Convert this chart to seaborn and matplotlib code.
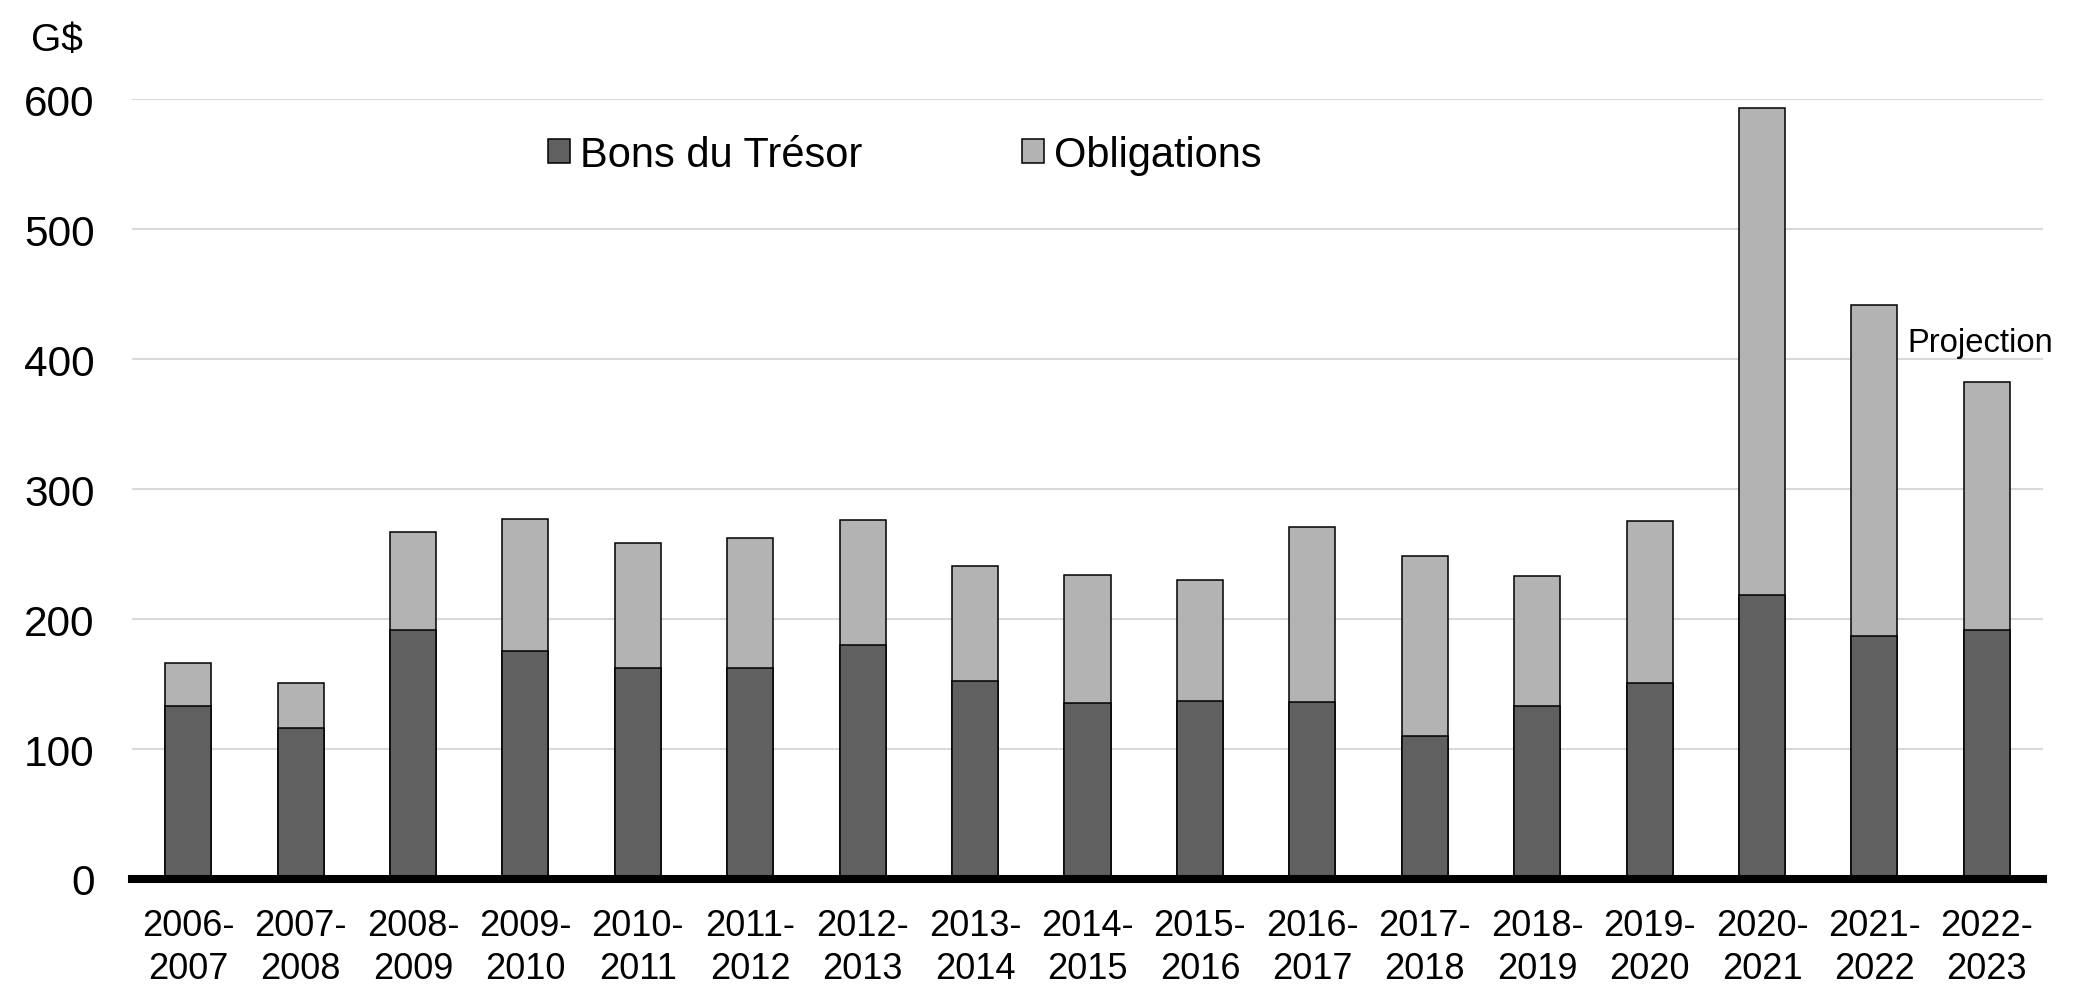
import matplotlib
matplotlib.use("Agg")
import matplotlib.pyplot as plt
import seaborn as sns
import pandas as pd
from matplotlib.patches import Patch

categories = ["2006-\n2007", "2007-\n2008", "2008-\n2009", "2009-\n2010", "2010-\n2011",
              "2011-\n2012", "2012-\n2013", "2013-\n2014", "2014-\n2015", "2015-\n2016",
              "2016-\n2017", "2017-\n2018", "2018-\n2019", "2019-\n2020", "2020-\n2021",
              "2021-\n2022", "2022-\n2023"]
bons_tresor = [133.3, 116.0, 191.6, 175.3, 162.0, 162.0, 180.2, 152.1, 135.3, 137.3,
               136.3, 110.1, 133.3, 151.1, 218.3, 186.7, 191.6]
obligations = [33.1, 35.1, 75.1, 101.7, 96.3, 100.2, 95.8, 88.4, 98.8, 92.8,
               134.8, 138.3, 99.8, 124.0, 374.8, 254.8, 190.6]
y_ticks = [0, 100, 200, 300, 400, 500, 600]

DARK = "#606060"
LIGHT = "#b3b3b3"

sns.set_theme(style="white")
plt.rcParams["font.family"] = ["Liberation Sans", "DejaVu Sans"]
plt.rcParams["text.color"] = "black"
plt.rcParams["xtick.color"] = "black"
plt.rcParams["ytick.color"] = "black"

df = pd.DataFrame({"cat": categories, "bons": bons_tresor, "obl": obligations})
df["total"] = df["bons"] + df["obl"]

W, H = 2091, 1004
fig = plt.figure(figsize=(W / 100, H / 100), dpi=100)
ax = fig.add_axes([132 / W, 1 - 880 / H, (2043 - 132) / W, 780 / H])

ax.set_axisbelow(True)
ax.yaxis.grid(True, color="#d9d9d9", linewidth=1.5)
ax.xaxis.grid(False)

sns.barplot(data=df, x="cat", y="total", color=LIGHT, saturation=1, width=0.41,
            edgecolor="black", linewidth=1.1, ax=ax)
sns.barplot(data=df, x="cat", y="bons", color=DARK, saturation=1, width=0.41,
            edgecolor="black", linewidth=1.1, ax=ax)

ax.set_xlim(-0.5, len(categories) - 0.5)
ax.set_ylim(0, 600)
ax.set_yticks(y_ticks)
ax.set_yticklabels([str(v) for v in y_ticks], fontsize=30.5)
ax.tick_params(axis="y", length=0, pad=27, labelcolor="black")
ax.tick_params(axis="x", length=0, pad=21, labelsize=26, labelcolor="black")
for lbl in ax.get_xticklabels():
    lbl.set_linespacing(1.3)
ax.set_xlabel("")
ax.set_ylabel("")
for s in ["top", "right", "left"]:
    ax.spines[s].set_visible(False)
ax.spines["bottom"].set_visible(True)
ax.spines["bottom"].set_color("black")
ax.spines["bottom"].set_linewidth(5.8)
ax.spines["bottom"].set_zorder(5)

fig.text(31 / W, 1 - 41 / H, "G$", fontsize=28, va="center", ha="left")

ax.text(15.29, 413, "Projection", fontsize=23.6, ha="left", va="center")

handles = [Patch(facecolor=DARK, edgecolor="black", linewidth=1.1, label="Bons du Trésor"),
           Patch(facecolor=LIGHT, edgecolor="black", linewidth=1.1, label="Obligations")]
leg = ax.legend(handles=handles, ncol=2, frameon=False, fontsize=30,
                loc="center left", bbox_to_anchor=(548 / W, 1 - 156 / H),
                bbox_transform=fig.transFigure, handlelength=0.52, handleheight=0.52,
                handletextpad=0.24, columnspacing=3.84, borderaxespad=0, borderpad=0)

fig.savefig("out.png", dpi=100)
